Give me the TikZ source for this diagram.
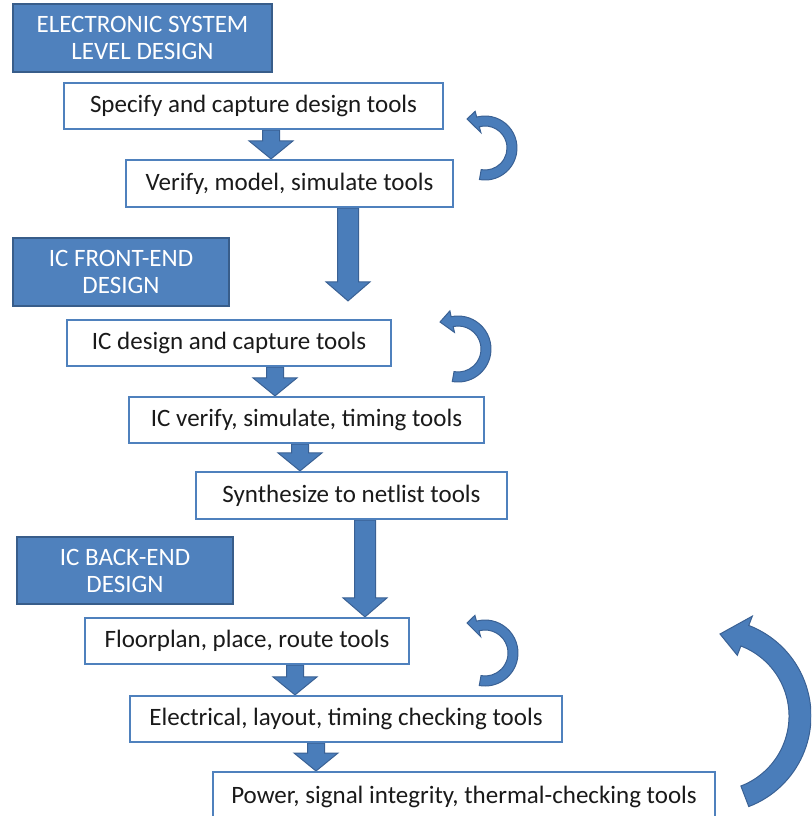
\documentclass[tikz,border=0pt]{standalone}
\usepackage{fontspec}
\setmainfont{Carlito}
\usetikzlibrary{backgrounds,calc}
\definecolor{hdrblue}{HTML}{4F81BD}
\definecolor{hdrdark}{HTML}{385D8A}
\definecolor{boxblue}{HTML}{4F81BD}
\definecolor{arrfill}{HTML}{4A7DBA}
\definecolor{arrdraw}{HTML}{3A6194}
\definecolor{txt}{HTML}{1A1A1A}

% x, from node, to node, shaft half-width, gap before target, head length
\newcommand\blockarrow[6]{%
  \path[fill=arrfill, draw=arrdraw, line width=1pt] let \p1=(#2.south), \p2=(#3.north) in
   ({(#1-#4)*1pt},\y1) -- ({(#1-#4)*1pt},{\y2+#5pt+#6pt}) -- ({(#1-22)*1pt},{\y2+#5pt+#6pt})
   -- ({#1*1pt},{\y2+#5pt}) -- ({(#1+22)*1pt},{\y2+#5pt+#6pt}) -- ({(#1+#4)*1pt},{\y2+#5pt+#6pt})
   -- ({(#1+#4)*1pt},\y1) -- cycle;}

% cx, cy, r, half-width, head half-width, tail angle, head angle, tip x, tip y
\newcommand\curvedarrow[9]{%
  \path[fill=arrfill, draw=arrdraw, line width=1pt]
   ({#1+(#3+#4)*cos(#6)},{#2+(#3+#4)*sin(#6)}) arc[start angle=#6, end angle=#7, radius=#3+#4]
   -- ({#1+(#3+#5)*cos(#7)},{#2+(#3+#5)*sin(#7)})
   -- (#8,#9)
   -- ({#1+(#3-#5)*cos(#7)},{#2+(#3-#5)*sin(#7)})
   -- ({#1+(#3-#4)*cos(#7)},{#2+(#3-#4)*sin(#7)})
   arc[start angle=#7, end angle=#6, radius=#3-#4] -- cycle;}

\tikzset{
  wbox/.style={draw=boxblue, line width=2.2pt, fill=white, inner sep=0pt, text=txt,
    font=\fontsize{25}{27}\selectfont},
  hbox/.style={draw=hdrdark, line width=2.5pt, fill=hdrblue, inner sep=0pt, text=white,
    align=center, font=\fontsize{25}{27}\selectfont},
}

\begin{document}
\begin{tikzpicture}[x=1pt, y=-1pt]
\useasboundingbox (0,0) rectangle (811,816);
\clip (0,0) rectangle (811,816);

% headers
\node[hbox, minimum width=259, minimum height=68] (h1) at (142.5,38) {ELECTRONIC SYSTEM\\LEVEL DESIGN};
\node[hbox, minimum width=216, minimum height=68] (h2) at (121,272) {IC FRONT-END\\DESIGN};
\node[hbox, minimum width=216, minimum height=67] (h3) at (125,570.5) {IC BACK-END\\DESIGN};

% tool boxes
\node[wbox, minimum width=379, minimum height=46] (b1) at (253.5,106) {Specify and capture design tools};
\node[wbox, minimum width=327, minimum height=47] (b2) at (289.5,183.5) {Verify, model, simulate tools};
\node[wbox, minimum width=324, minimum height=46] (b3) at (229,343) {IC design and capture tools};
\node[wbox, minimum width=355, minimum height=46] (b4) at (306.5,420) {IC verify, simulate, timing tools};
\node[wbox, minimum width=311, minimum height=47] (b5) at (351.5,495.5) {Synthesize to netlist tools};
\node[wbox, minimum width=324, minimum height=46] (b6) at (247,641) {Floorplan, place, route tools};
\node[wbox, minimum width=432, minimum height=46] (b7) at (346,719) {Electrical, layout, timing checking tools};
\node[wbox, minimum width=502, minimum height=50, anchor=north] (b8) at (464,771) {\raisebox{2pt}{Power, signal integrity, thermal-checking tools}};

% block arrows behind the boxes
\begin{pgfonlayer}{background}
\blockarrow{271}{b1}{b2}{8.5}{0}{18}
\blockarrow{348}{b2}{b3}{10.5}{18}{19}
\blockarrow{275}{b3}{b4}{8.5}{0}{18}
\blockarrow{300}{b4}{b5}{8.5}{0}{18}
\blockarrow{365}{b5}{b6}{10.5}{0}{19}
\blockarrow{295}{b6}{b7}{8.5}{0}{18}
\blockarrow{316}{b7}{b8}{8.5}{0}{18}
\end{pgfonlayer}

% curved feedback arrows
\curvedarrow{485}{148}{27}{5}{11}{100}{-105}{467}{119}
\curvedarrow{458}{349}{28}{5}{11}{100}{-102}{440}{322}
\curvedarrow{485}{653}{28}{5}{11}{100}{-105}{467}{623}
\curvedarrow{714}{716}{86}{11}{21}{69}{-69}{720}{634}
\end{tikzpicture}
\end{document}
